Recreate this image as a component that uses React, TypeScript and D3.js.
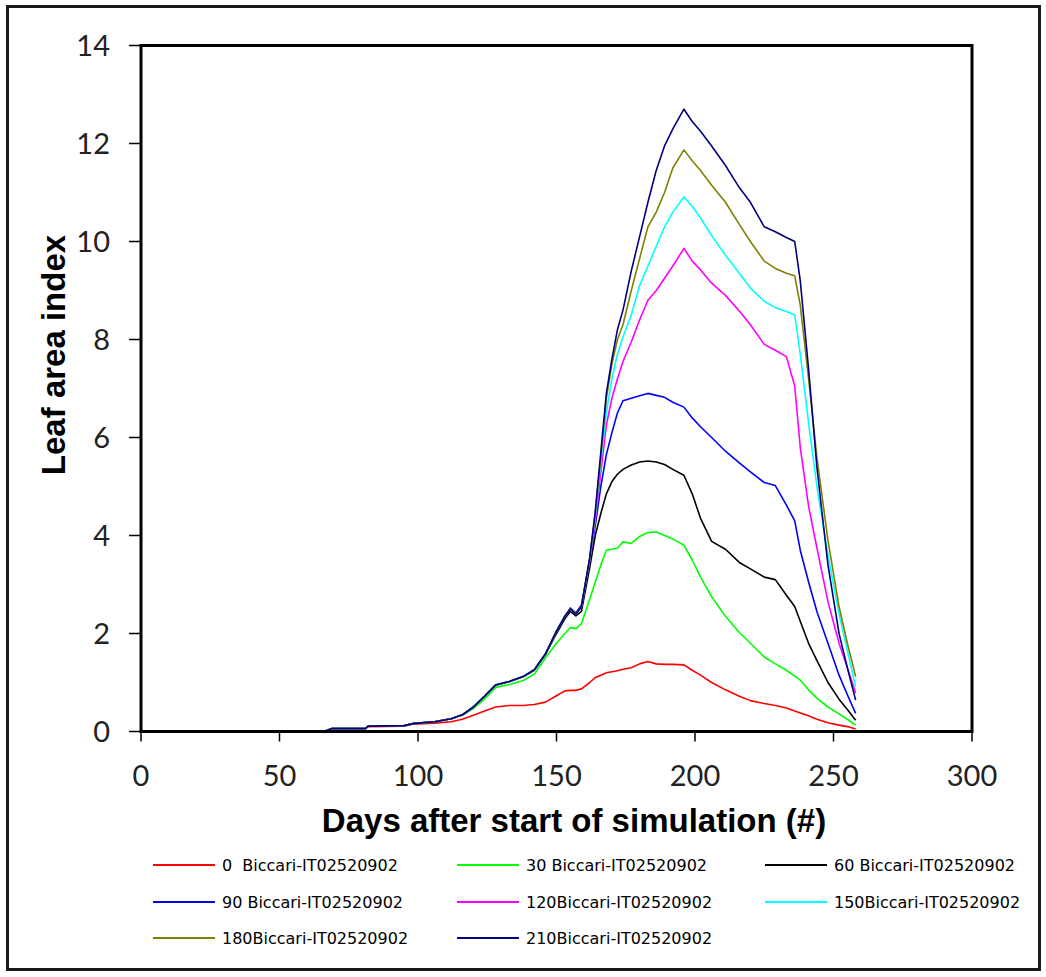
import React from "react";
import * as d3 from "d3";

const days = [57, 66, 69, 81, 82, 95, 98, 106, 112, 116, 120, 124, 128, 133, 138, 142, 146, 150, 153, 155, 157, 159, 162, 164, 166, 168, 170, 172, 174, 177, 180, 183, 186, 189, 192, 196, 199, 202, 206, 211, 216, 220, 225, 229, 233, 236, 238, 241, 244, 248, 252, 255, 258];

const lai0 = [0, 0, 0.05, 0.05, 0.1, 0.11, 0.15, 0.17, 0.2, 0.25, 0.33, 0.42, 0.5, 0.53, 0.53, 0.55, 0.6, 0.73, 0.83, 0.84, 0.84, 0.87, 1.0, 1.1, 1.15, 1.2, 1.22, 1.24, 1.27, 1.3, 1.38, 1.43, 1.38, 1.37, 1.37, 1.36, 1.25, 1.15, 1.0, 0.85, 0.72, 0.63, 0.57, 0.53, 0.48, 0.42, 0.38, 0.32, 0.25, 0.18, 0.13, 0.1, 0.05];
const lai30 = [0, 0, 0.06, 0.06, 0.11, 0.12, 0.16, 0.2, 0.26, 0.33, 0.47, 0.66, 0.9, 0.96, 1.04, 1.17, 1.5, 1.8, 2.0, 2.12, 2.1, 2.2, 2.7, 3.05, 3.4, 3.7, 3.72, 3.74, 3.87, 3.84, 3.98, 4.06, 4.07, 4.0, 3.93, 3.8, 3.5, 3.15, 2.75, 2.35, 2.02, 1.8, 1.52, 1.38, 1.25, 1.13, 1.05, 0.85, 0.68, 0.5, 0.36, 0.25, 0.13];
const lai60 = [0, 0, 0.06, 0.06, 0.11, 0.12, 0.16, 0.2, 0.26, 0.34, 0.5, 0.72, 0.95, 1.02, 1.12, 1.25, 1.57, 2.0, 2.3, 2.45, 2.36, 2.45, 3.35, 4.0, 4.45, 4.85, 5.1, 5.25, 5.35, 5.44, 5.5, 5.52, 5.5, 5.45, 5.35, 5.23, 4.85, 4.35, 3.88, 3.72, 3.45, 3.32, 3.15, 3.1, 2.78, 2.55, 2.25, 1.8, 1.45, 1.0, 0.66, 0.45, 0.23];
const lai90 = [0, 0, 0.06, 0.06, 0.11, 0.12, 0.16, 0.2, 0.26, 0.34, 0.5, 0.72, 0.95, 1.02, 1.12, 1.26, 1.58, 2.05, 2.35, 2.52, 2.42, 2.58, 3.5, 4.2, 5.0, 5.65, 6.1, 6.5, 6.75, 6.8, 6.85, 6.9, 6.86, 6.82, 6.72, 6.62, 6.4, 6.22, 6.0, 5.72, 5.48, 5.3, 5.08, 5.02, 4.62, 4.3, 3.7, 3.05, 2.45, 1.8, 1.15, 0.75, 0.37];
const lai120 = [0, 0, 0.06, 0.06, 0.11, 0.12, 0.16, 0.2, 0.26, 0.34, 0.5, 0.72, 0.95, 1.02, 1.12, 1.26, 1.58, 2.05, 2.35, 2.5, 2.4, 2.55, 3.5, 4.3, 5.3, 6.25, 6.8, 7.2, 7.55, 7.95, 8.4, 8.8, 9.0, 9.25, 9.5, 9.86, 9.6, 9.42, 9.15, 8.9, 8.58, 8.3, 7.9, 7.78, 7.65, 7.05, 5.8, 4.6, 3.75, 2.65, 1.8, 1.3, 0.78];
const lai150 = [0, 0, 0.06, 0.06, 0.11, 0.12, 0.16, 0.2, 0.26, 0.34, 0.5, 0.72, 0.95, 1.02, 1.12, 1.26, 1.58, 2.05, 2.35, 2.5, 2.4, 2.55, 3.52, 4.4, 5.5, 6.5, 7.2, 7.7, 8.05, 8.5, 9.1, 9.5, 9.9, 10.3, 10.6, 10.91, 10.72, 10.48, 10.12, 9.72, 9.35, 9.05, 8.78, 8.65, 8.57, 8.5, 7.7, 6.3, 5.0, 3.6, 2.4, 1.65, 0.91];
const lai180 = [0, 0, 0.06, 0.06, 0.11, 0.12, 0.16, 0.2, 0.26, 0.34, 0.5, 0.72, 0.95, 1.02, 1.12, 1.26, 1.58, 2.05, 2.35, 2.5, 2.4, 2.55, 3.55, 4.45, 5.6, 6.8, 7.5, 8.0, 8.3, 9.0, 9.65, 10.3, 10.6, 11.0, 11.5, 11.87, 11.65, 11.45, 11.15, 10.8, 10.35, 10.0, 9.6, 9.45, 9.35, 9.3, 8.7, 7.2, 5.6, 3.9, 2.55, 1.8, 1.12];
const lai210 = [0, 0, 0.06, 0.06, 0.11, 0.12, 0.16, 0.2, 0.26, 0.34, 0.5, 0.72, 0.95, 1.02, 1.12, 1.26, 1.58, 2.05, 2.35, 2.5, 2.4, 2.55, 3.55, 4.5, 5.7, 6.9, 7.6, 8.2, 8.6, 9.4, 10.1, 10.8, 11.45, 11.95, 12.3, 12.7, 12.45, 12.25, 11.95, 11.55, 11.1, 10.8, 10.3, 10.2, 10.08, 10.0, 9.2, 7.4, 5.4, 3.4, 2.0, 1.3, 0.64];

const seriesNames = [
  "0  Biccari-IT02520902",
  "30 Biccari-IT02520902",
  "60 Biccari-IT02520902",
  "90 Biccari-IT02520902",
  "120Biccari-IT02520902",
  "150Biccari-IT02520902",
  "180Biccari-IT02520902",
  "210Biccari-IT02520902",
];
const seriesValues = [lai0, lai30, lai60, lai90, lai120, lai150, lai180, lai210];
const seriesColors = ["#ff0000", "#00ff00", "#000000", "#0000ff", "#ff00ff", "#00ffff", "#808000", "#000080"];

const xTicks = [0, 50, 100, 150, 200, 250, 300];
const yTicks = [0, 2, 4, 6, 8, 10, 12, 14];

export default function App() {
  const W = 1046;
  const H = 977;
  const x = d3.scaleLinear().domain([0, 300]).range([141, 972]);
  const y = d3.scaleLinear().domain([0, 14]).range([731.5, 45.5]);
  const line = d3
    .line<number>()
    .x((_, i) => x(days[i]))
    .y((d) => y(d));

  const legCols = [153, 457, 765];
  const legRows = [865, 902, 938];
  const tickFont = "Lato, 'Open Sans', sans-serif";

  return (
    <svg
      width={W}
      height={H}
      style={{ position: "absolute", left: 0, top: 0, display: "block", background: "#fff" }}
    >
      <rect x={0} y={0} width={W} height={H} fill="#fff" />
      <rect x={7.5} y={6.5} width={1032} height={963} fill="none" stroke="#1a1a1a" strokeWidth={3} />

      {/* series */}
      <g clipPath="url(#plotclip)">
        {seriesValues.map((vals, si) => (
          <path
            key={si}
            d={line(vals) || ""}
            fill="none"
            stroke={seriesColors[si]}
            strokeWidth={1.6}
            strokeLinejoin="round"
          />
        ))}
      </g>
      <defs>
        <clipPath id="plotclip">
          <rect x={141} y={45.5} width={831} height={686} />
        </clipPath>
      </defs>

      {/* plot frame */}
      <rect x={x(0)} y={y(14)} width={x(300) - x(0)} height={y(0) - y(14)} fill="none" stroke="#000" strokeWidth={3} />

      {/* y ticks */}
      {yTicks.map((t) => (
        <g key={"y" + t}>
          <line x1={129} x2={x(0)} y1={y(t)} y2={y(t)} stroke="#000" strokeWidth={1.5} />
          <text
            x={110}
            y={y(t) + 10}
            textAnchor="end"
            fontFamily={tickFont}
            fontSize={29}
            fill="#222"
          >
            {t}
          </text>
        </g>
      ))}

      {/* x ticks */}
      {xTicks.map((t) => (
        <g key={"x" + t}>
          <line x1={x(t)} x2={x(t)} y1={y(0)} y2={y(0) + 10} stroke="#000" strokeWidth={1.5} />
          <text x={x(t)} y={786} textAnchor="middle" fontFamily={tickFont} fontSize={29} fill="#222">
            {t}
          </text>
        </g>
      ))}

      {/* axis titles */}
      <text
        x={574}
        y={832}
        textAnchor="middle"
        fontFamily="'Liberation Sans', Arial, sans-serif"
        fontWeight="bold"
        fontSize={33}
        fill="#000"
      >
        Days after start of simulation (#)
      </text>
      <text
        transform={`translate(65, 355) rotate(-90)`}
        textAnchor="middle"
        fontFamily="'Liberation Sans', Arial, sans-serif"
        fontWeight="bold"
        fontSize={33}
        fill="#000"
      >
        Leaf area index
      </text>

      {/* legend */}
      {seriesNames.map((name, i) => {
        const cx = legCols[i % 3];
        const cy = legRows[Math.floor(i / 3)];
        return (
          <g key={"leg" + i}>
            <line x1={cx} x2={cx + 62} y1={cy} y2={cy} stroke={seriesColors[i]} strokeWidth={2} />
            <text
              x={cx + 69}
              y={cy + 5.5}
              fontFamily="'DejaVu Sans', sans-serif"
              fontSize={16}
              fill="#000"
              style={{ whiteSpace: "pre" }}
            >
              {name}
            </text>
          </g>
        );
      })}
    </svg>
  );
}
